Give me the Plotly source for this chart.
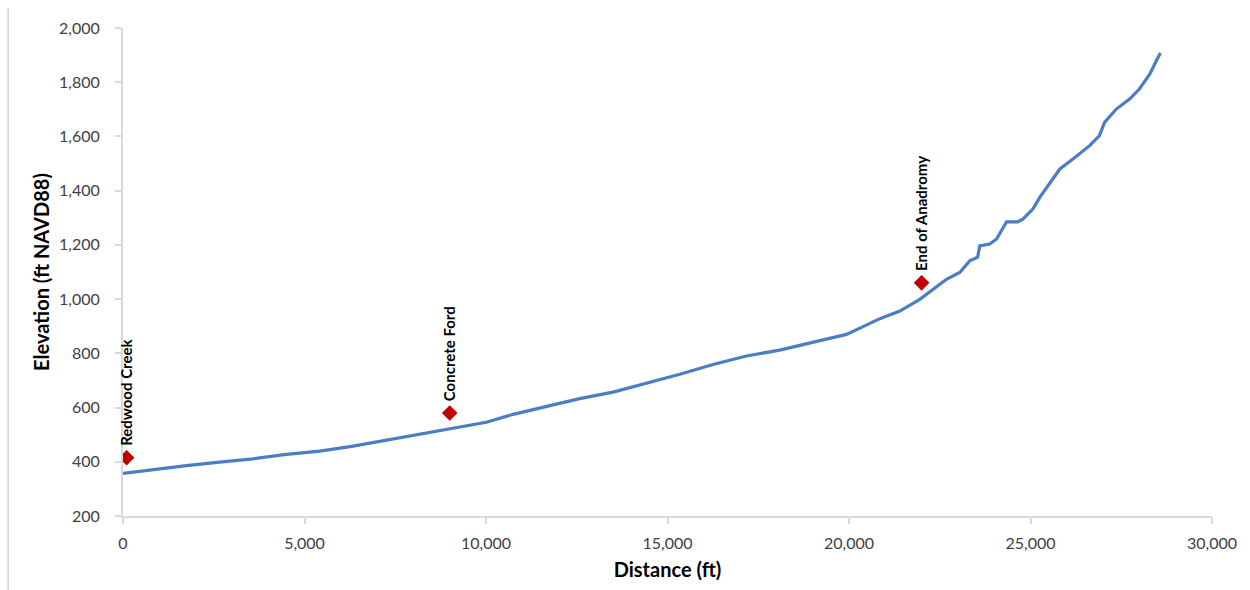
import plotly.graph_objects as go

# Thalweg profile: distance upstream (ft) and elevation (ft NAVD88)
distance_ft = [0, 827, 1745, 2665, 3580, 4500, 5420, 6340, 7255, 8175, 9090,
               10010, 10745, 11665, 12580, 13500, 14420, 15340, 16255, 16530,
               17175, 18090, 19010, 19930, 20850, 21400, 21950, 22685, 23050,
               23325, 23545, 23600, 23875, 24060, 24340, 24650, 24790, 25065,
               25260, 25535, 25810, 26170, 26630, 26900, 27040, 27365, 27730,
               28000, 28285, 28470, 28580]
elevation_ft = [357, 372, 386, 399, 411, 427, 439, 458, 480, 501, 522,
                546, 575, 605, 633, 657, 689, 723, 759, 768,
                790, 812, 840, 870, 928, 956, 999, 1073, 1098,
                1141, 1155, 1196, 1203, 1221, 1285, 1285, 1295, 1332,
                1376, 1430, 1480, 1517, 1566, 1603, 1652, 1701, 1738,
                1775, 1830, 1880, 1908]

# Named landmarks along the profile
site_names = ["Redwood Creek", "Concrete Ford", "End of Anadromy"]
site_distance = [100, 9000, 22000]
site_elevation = [415, 580, 1060]

x_ticks = [0, 5000, 10000, 15000, 20000, 25000, 30000]
y_ticks = [200, 400, 600, 800, 1000, 1200, 1400, 1600, 1800, 2000]

FONT = "Lato"
TICK_COLOR = "#404040"
AXIS_COLOR = "#d9d9d9"

fig = go.Figure()

fig.add_trace(go.Scatter(
    x=distance_ft, y=elevation_ft, mode="lines",
    line=dict(color="#4a7ec4", width=3.2),
    showlegend=False, hoverinfo="skip",
))

fig.add_trace(go.Scatter(
    x=site_distance, y=site_elevation, mode="markers",
    marker=dict(symbol="diamond", size=12, color="#c00000"),
    showlegend=False, hoverinfo="skip",
))

for name, xd, yd in zip(site_names, site_distance, site_elevation):
    fig.add_annotation(
        x=xd, y=yd, text=f"<b>{name}</b>", showarrow=False,
        textangle=-90, xanchor="center", yanchor="bottom", yshift=10,
        font=dict(family=FONT, size=15, color="#000000"),
    )

# thin frame edge on the left of the canvas
fig.add_shape(type="line", xref="paper", yref="paper",
              x0=-0.1055, x1=-0.1055, y0=1.041, y1=-0.16,
              line=dict(color="#d0d0d0", width=1.5))

fig.update_xaxes(
    range=[0, 30000], tickvals=x_ticks, tickformat=",d",
    showline=True, linecolor=AXIS_COLOR, linewidth=2,
    ticks="outside", ticklen=6, tickcolor=AXIS_COLOR, tickwidth=1.5,
    showgrid=False, zeroline=False, ticklabelstandoff=6,
    tickfont=dict(family=FONT, size=16, color=TICK_COLOR),
    title=dict(text="<b>Distance (ft)</b>", standoff=12,
               font=dict(family=FONT, size=20, color="#000000")),
)
fig.update_yaxes(
    range=[200, 2000], tickvals=y_ticks, tickformat=",d",
    showline=True, linecolor=AXIS_COLOR, linewidth=2,
    ticks="outside", ticklen=6, tickcolor=AXIS_COLOR, tickwidth=1.5,
    showgrid=False, zeroline=False, ticklabelstandoff=12,
    tickfont=dict(family=FONT, size=16, color=TICK_COLOR),
    title=dict(text="<b>Elevation (ft NAVD88)</b>", standoff=4,
               font=dict(family=FONT, size=20, color="#000000")),
)

fig.update_layout(
    width=1250, height=590,
    margin=dict(l=123, r=38, t=28, b=74),
    plot_bgcolor="white", paper_bgcolor="white",
)

fig.write_html("out.html")
